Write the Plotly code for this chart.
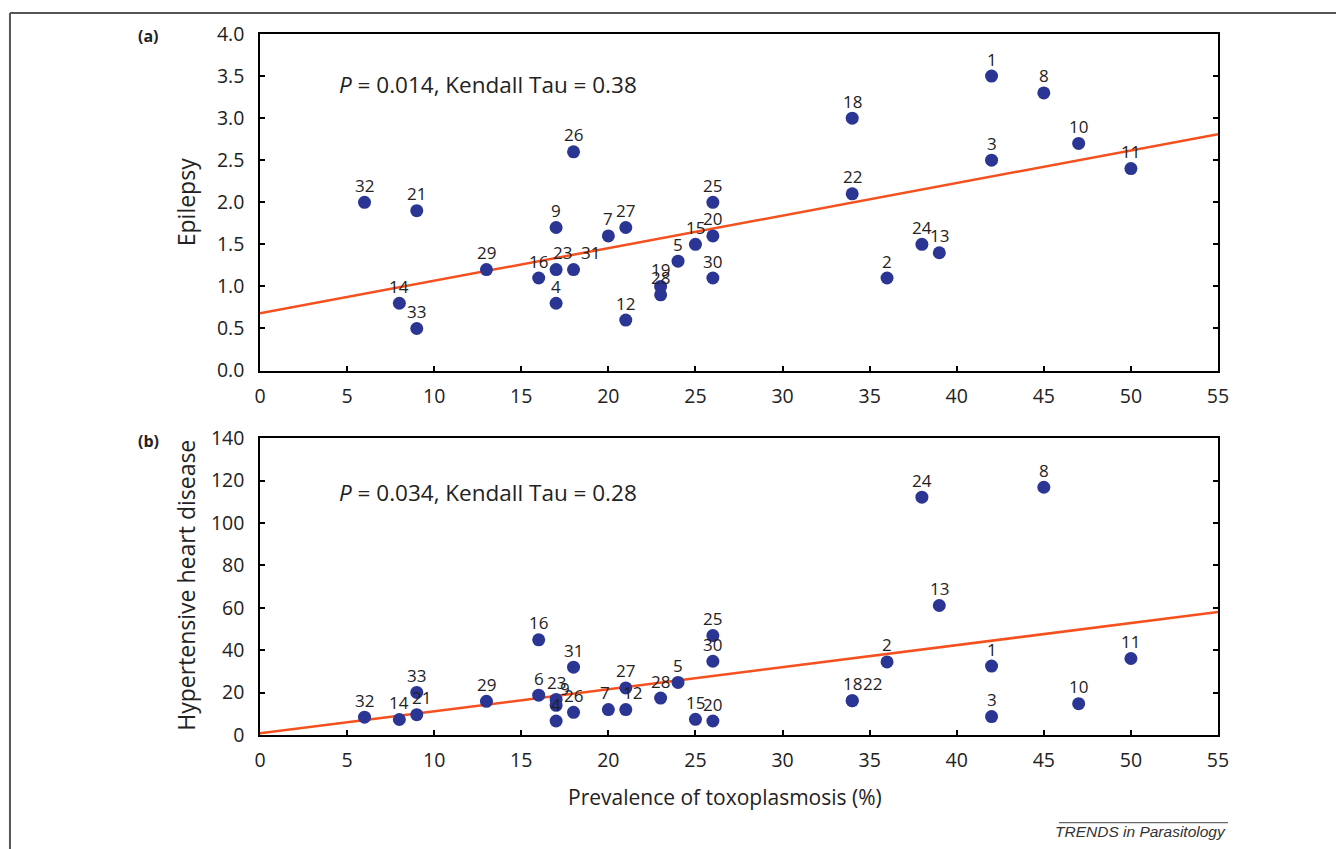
import plotly.graph_objects as go

# ---------------- data ----------------
ids_a = [32, 21, 14, 33, 29, 16, 23, 9, 4, 31, 26, 7, 27, 12, 19, 28, 5, 15, 25, 20, 30,
         18, 22, 2, 24, 13, 1, 3, 8, 10, 11]
prev_a = [6, 9, 8, 9, 13, 16, 17, 17, 17, 18, 18, 20, 21, 21, 23, 23, 24, 25, 26, 26, 26,
          34, 34, 36, 38, 39, 42, 42, 45, 47, 50]
epilepsy = [2.0, 1.9, 0.8, 0.5, 1.2, 1.1, 1.2, 1.7, 0.8, 1.2, 2.6, 1.6, 1.7, 0.6, 1.0, 0.9,
            1.3, 1.5, 2.0, 1.6, 1.1, 3.0, 2.1, 1.1, 1.5, 1.4, 3.5, 2.5, 3.3, 2.7, 2.4]

ids_b = [32, 14, 21, 33, 29, 16, 6, 23, 9, 4, 31, 26, 7, 27, 12, 28, 5, 15, 25, 30, 20,
         18, 22, 2, 24, 13, 1, 3, 8, 10, 11]
prev_b = [6, 8, 9, 9, 13, 16, 16, 17, 17, 17, 18, 18, 20, 21, 21, 23, 24, 25, 26, 26, 26,
          34, 34, 36, 38, 39, 42, 42, 45, 47, 50]
hhd = [8.4, 7.3, 9.6, 20.1, 15.9, 44.9, 18.8, 16.8, 14.0, 6.6, 32.0, 10.7, 12.0, 22.2, 12.0,
       17.4, 24.8, 7.4, 46.9, 34.8, 6.6, 16.2, 16.2, 34.5, 112.2, 61.1, 32.5, 8.7, 116.9,
       14.8, 36.1]

trend_x = [0, 55]
trend_a = [0.68, 2.81]
trend_b = [0.8, 58.0]

x_ticks = list(range(0, 60, 5))
y_ticks_a = [0.0, 0.5, 1.0, 1.5, 2.0, 2.5, 3.0, 3.5, 4.0]
y_ticks_b = [0, 20, 40, 60, 80, 100, 120, 140]

stat_a = "<i>P</i> = 0.014, Kendall Tau = 0.38"
stat_b = "<i>P</i> = 0.034, Kendall Tau = 0.28"

# label nudges (pixels) for overlapping labels
label_shift_a = {31: 17, 23: 6}
label_shift_b = {22: 20, 9: 9, 21: 5, 12: 7, 7: -3}

# ---------------- style ----------------
FONT = "Open Sans"
MARK = "#2b3593"
LINE = "#f5501e"
TXT = "#222222"

fig = go.Figure()

fig.add_trace(go.Scatter(x=trend_x, y=trend_a, mode="lines", xaxis="x", yaxis="y",
                         line=dict(color=LINE, width=2.5), showlegend=False, hoverinfo="skip"))
fig.add_trace(go.Scatter(x=prev_a, y=epilepsy, mode="markers", xaxis="x", yaxis="y",
                         marker=dict(color=MARK, size=13), showlegend=False))
fig.add_trace(go.Scatter(x=trend_x, y=trend_b, mode="lines", xaxis="x2", yaxis="y2",
                         line=dict(color=LINE, width=2.5), showlegend=False, hoverinfo="skip"))
fig.add_trace(go.Scatter(x=prev_b, y=hhd, mode="markers", xaxis="x2", yaxis="y2",
                         marker=dict(color=MARK, size=13), showlegend=False))

annotations = []
for i, xv, yv in zip(ids_a, prev_a, epilepsy):
    annotations.append(dict(x=xv, y=yv, xref="x", yref="y", text=str(i), showarrow=False,
                            yshift=17, xshift=label_shift_a.get(i, 0),
                            font=dict(family=FONT, size=17, color=TXT)))
for i, xv, yv in zip(ids_b, prev_b, hhd):
    annotations.append(dict(x=xv, y=yv, xref="x2", yref="y2", text=str(i), showarrow=False,
                            yshift=17, xshift=label_shift_b.get(i, 0),
                            font=dict(family=FONT, size=17, color=TXT)))

def pa(text, x, y, size, family=FONT, color=TXT, **kw):
    d = dict(x=x, y=y, xref="paper", yref="paper", text=text, showarrow=False,
             xanchor="center", yanchor="middle",
             font=dict(family=family, size=size, color=color))
    d.update(kw)
    return d

annotations += [
    pa(stat_a, 0.0804, 0.9276, 22.5, xanchor="left"),
    pa(stat_b, 0.0804, 0.3466, 22.5, xanchor="left"),
    pa("<b>(a)</b>", -0.116, 0.997, 16),
    pa("<b>(b)</b>", -0.116, 0.419, 16),
    pa("Epilepsy", -0.0772, 0.76, 23, textangle=-90),
    pa("Hypertensive heart disease", -0.0772, 0.213, 23, textangle=-90),
    pa("Prevalence of toxoplasmosis (%)", 0.485, -0.088, 21),
    pa("<i>TRENDS in Parasitology</i>", 1.0104, -0.1378, 15.5, family="Liberation Sans",
       color="#333333", xanchor="right"),
]

axis_common = dict(showgrid=False, zeroline=False, showline=True, linecolor="black",
                   linewidth=1.5, ticks="inside", ticklen=5, tickwidth=1.5, tickcolor="black",
                   tickfont=dict(family=FONT, size=19.5, color=TXT))

# the page body adds an 8px offset, so the figure is 8px smaller than the window
fig.update_layout(
    width=1336, height=841,
    margin=dict(l=252, r=126, t=23, b=114),
    paper_bgcolor="white", plot_bgcolor="white",
    xaxis=dict(domain=[0, 1], anchor="y", range=[0, 55], tickvals=x_ticks,
               mirror=True, ticklabelstandoff=7, **axis_common),
    yaxis=dict(domain=[0.5199, 1], anchor="x", range=[0, 4.0], tickvals=y_ticks_a,
               tickformat=".1f", mirror="ticks", ticklabelstandoff=10, **axis_common),
    xaxis2=dict(domain=[0, 1], anchor="y2", range=[0, 55], tickvals=x_ticks,
                mirror=True, ticklabelstandoff=7, **axis_common),
    yaxis2=dict(domain=[0, 0.4233], anchor="x2", range=[0, 140], tickvals=y_ticks_b,
                mirror="ticks", ticklabelstandoff=10, **axis_common),
    annotations=annotations,
    shapes=[
        dict(type="line", xref="paper", yref="paper", x0=-0.261, x1=-0.261, y0=-0.17, y1=1.0298,
             line=dict(color="#555555", width=2)),
        dict(type="line", xref="paper", yref="paper", x0=-0.261, x1=1.14, y0=1.0298, y1=1.0298,
             line=dict(color="#555555", width=2)),
        dict(type="line", xref="paper", yref="paper", x0=0.834, x1=1.0104, y0=-0.125, y1=-0.125,
             line=dict(color="#666666", width=1.2)),
    ],
)

fig.write_html("out.html")
